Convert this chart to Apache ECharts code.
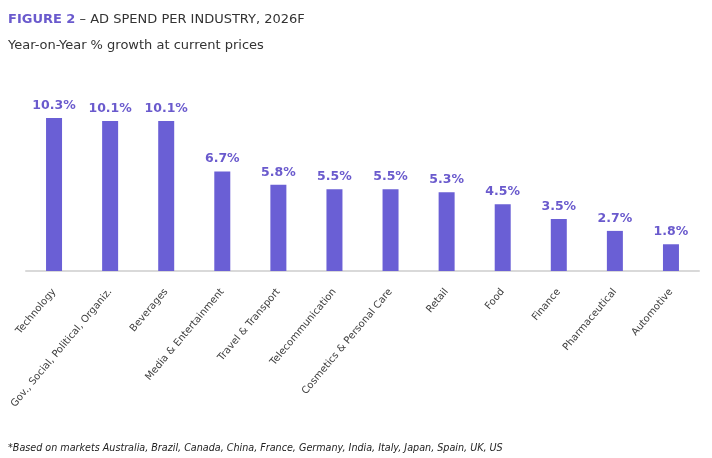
<!DOCTYPE html>
<html><head><meta charset="utf-8">
<script src="https://cdn.jsdelivr.net/npm/echarts@6/dist/echarts.min.js"></script>
<style>html,body{margin:0;padding:0;background:#fff}#c{width:712px;height:458px}</style>
</head><body><div id="c"></div>
<script>
const categories = ["Technology","Gov., Social, Political, Organiz.","Beverages","Media & Entertainment","Travel & Transport","Telecommunication","Cosmetics & Personal Care","Retail","Food","Finance","Pharmaceutical","Automotive"];
const growth = [10.3,10.1,10.1,6.7,5.8,5.5,5.5,5.3,4.5,3.5,2.7,1.8];
const titleMain = "FIGURE 2";
const titleRest = " – AD SPEND PER INDUSTRY, 2026F";
const subtitle = "Year-on-Year % growth at current prices";
const footnote = "*Based on markets Australia, Brazil, Canada, China, France, Germany, India, Italy, Japan, Spain, UK, US";

const F = "DejaVu Sans, Verdana, sans-serif";
const chart = echarts.init(document.getElementById('c'));
chart.setOption({
  animation:false,
  title:[
    {left:8, top:13, padding:0, text:"{a|"+titleMain+"}{b|"+titleRest+"}",
     textStyle:{fontWeight:'normal', rich:{a:{fontFamily:F,fontSize:13,fontWeight:'bold',color:'#6A5ACD'},b:{fontFamily:F,fontSize:13,fontWeight:'normal',color:'#333'}}}},
    {left:8, top:39, padding:0, text:subtitle, textStyle:{fontFamily:F,fontSize:13,fontWeight:'normal',color:'#333'}},
    {left:8, top:443, padding:0, text:footnote, textStyle:{fontFamily:F,fontSize:9.6,fontWeight:'normal',fontStyle:'italic',color:'#222'}}
  ],
  grid:{left:26, right:13, top:107.6, bottom:187},
  xAxis:{type:'category', data:categories,
    axisLine:{lineStyle:{color:'#d9d9d9',width:2}}, axisTick:{show:false},
    axisLabel:{interval:0, rotate:50, fontFamily:F, fontSize:10, color:'#404040', margin:19}},
  yAxis:{type:'value', min:0, max:11, show:false, splitLine:{show:false}},
  series:[{type:'bar', data:growth, barWidth:16,
    itemStyle:{color:'#6A5FD5'},
    label:{show:true, position:'top', distance:6, formatter:p=>p.value.toFixed(1)+'%',
      fontFamily:F, fontSize:12.5, fontWeight:'bold', color:'#6A5ACD'}}]
});
</script></body></html>
